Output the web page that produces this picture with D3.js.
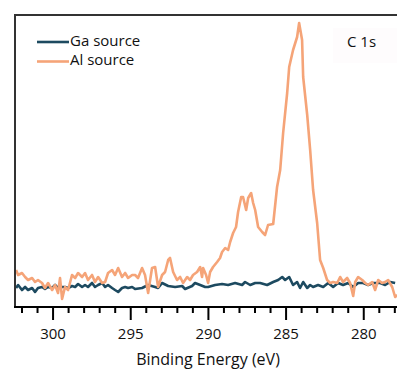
<!DOCTYPE html>
<html>
<head>
<meta charset="utf-8">
<script src="https://cdn.jsdelivr.net/npm/d3@7"></script>
<style>
  body { margin: 0; background: #fff; }
  svg { display: block; font-family: "Open Sans", sans-serif; }
</style>
</head>
<body>
<div id="vis"></div>
<script>
// Binding energy (eV) and intensity (a.u.)
const gaEnergy = [302.38, 302.25, 302.0, 301.8, 301.61, 301.35, 301.16, 300.97, 300.71, 300.52,
  300.32, 300.06, 299.87, 299.68, 299.42, 299.23, 299.03, 298.78, 298.58, 298.39,
  298.13, 297.94, 297.75, 297.49, 297.30, 297.10, 296.84, 296.65, 296.46, 296.20,
  296.01, 295.81, 295.56, 295.36, 295.17, 294.91, 294.72, 294.27, 293.88, 293.43,
  293.24, 292.98, 292.59, 292.14, 291.69, 291.50, 291.05, 290.86, 290.53, 290.21,
  290.02, 289.57, 289.12, 288.73, 288.28, 287.83, 287.64, 287.31, 286.99, 286.67,
  286.22, 285.83, 285.51, 285.25, 285.06, 284.80, 284.55, 284.29, 284.10, 283.90,
  283.64, 283.45, 283.26, 282.94, 282.61, 282.29, 281.97, 281.65, 281.33, 281.00,
  280.68, 280.36, 280.04, 279.72, 279.40, 278.95, 278.62, 278.30, 277.98];
const gaCounts = [19, 22, 17, 20, 17, 19, 15, 19, 20, 18,
  20, 19, 22, 19, 20, 20, 19, 21, 20, 23,
  20, 22, 20, 24, 20, 22, 24, 20, 22, 19,
  17, 15, 19, 20, 19, 20, 18, 19, 22, 20,
  19, 24, 21, 20, 21, 18, 21, 24, 22, 20,
  20, 22, 23, 22, 24, 22, 25, 22, 24, 24,
  22, 25, 27, 30, 27, 30, 22, 25, 19, 25,
  19, 22, 20, 22, 20, 24, 20, 24, 22, 24,
  20, 24, 24, 22, 24, 24, 22, 25, 24];

const alEnergy = [302.38, 302.25, 302.0, 301.8, 301.61, 301.35, 301.16, 300.97, 300.71, 300.52,
  300.32, 300.06, 299.87, 299.68, 299.55, 299.42, 299.23, 299.03, 298.78, 298.58,
  298.39, 298.13, 297.94, 297.75, 297.49, 297.30, 297.10, 296.84, 296.65, 296.46,
  296.20, 296.01, 295.81, 295.56, 295.36, 295.17, 294.91, 294.72, 294.53, 294.27,
  294.08, 293.88, 293.63, 293.43, 293.24, 292.98, 292.79, 292.59, 292.47, 292.27,
  292.02, 291.82, 291.63, 291.37, 291.18, 290.99, 290.73, 290.53, 290.41, 290.34,
  290.15, 290.02, 289.89, 289.70, 289.44, 289.25, 289.12, 288.92, 288.73, 288.60,
  288.41, 288.22, 288.09, 287.89, 287.77, 287.57, 287.44, 287.25, 287.12, 286.99,
  286.80, 286.54, 286.35, 286.16, 285.83, 285.58, 285.38, 285.19, 284.93, 284.80,
  284.55, 284.29, 284.16, 283.97, 283.90, 283.64, 283.45, 283.26, 283.00, 282.81,
  282.61, 282.36, 282.16, 281.97, 281.71, 281.52, 281.33, 281.07, 280.88, 280.68,
  280.55, 280.36, 280.10, 279.91, 279.72, 279.46, 279.27, 279.07, 278.82, 278.62,
  278.43, 278.17, 277.98, 277.85];
const alCounts = [37, 32, 34, 30, 27, 29, 25, 27, 24, 19,
  24, 17, 22, 14, 29, 8, 20, 17, 32, 29,
  34, 30, 34, 27, 32, 25, 30, 24, 25, 34,
  37, 32, 39, 30, 34, 29, 32, 32, 29, 39,
  32, 14, 39, 40, 20, 32, 35, 47, 49, 35,
  27, 30, 24, 30, 27, 32, 35, 40, 30, 39,
  32, 24, 35, 40, 45, 49, 55, 59, 57, 65,
  74, 80, 95, 110, 110, 97, 109, 114, 104, 97,
  80, 75, 72, 82, 83, 120, 137, 174, 214, 240,
  257, 270, 284, 267, 230, 192, 157, 117, 84, 47,
  39, 27, 24, 25, 24, 30, 25, 29, 24, 11,
  25, 30, 27, 24, 22, 25, 17, 27, 24, 25,
  27, 20, 10, 12];

const xTicks = [300, 295, 290, 285, 280];
const minorTicks = [302, 301, 299, 298, 297, 296, 294, 293, 292, 291, 289, 288, 287, 286, 284, 283, 282, 281, 279, 278];
const seriesNames = ["Ga source", "Al source"];
const colors = ["#1d4a60", "#f5a478"];

const W = 397, H = 369;
const plotBox = {left: 15, right: 397, top: 15, bottom: 307};

const svg = d3.select("#vis").append("svg")
  .attr("width", W)
  .attr("height", H);

const x = d3.scaleLinear().domain([302.45, 277.86]).range([plotBox.left, plotBox.right]);
const y = d3.scaleLinear().domain([0, 292]).range([plotBox.bottom, plotBox.top]);

// plot frame (right side runs off the picture)
svg.append("path")
  .attr("d", `M${plotBox.right + 5},${plotBox.top}H${plotBox.left}V${plotBox.bottom}`)
  .attr("fill", "none")
  .attr("stroke", "#333")
  .attr("stroke-width", 2);

// faint label box
svg.append("rect")
  .attr("x", 333).attr("y", 28)
  .attr("width", 70).attr("height", 35)
  .attr("fill", "#fefcfd");

svg.append("text")
  .attr("x", 347).attr("y", 47)
  .attr("font-size", 15)
  .attr("fill", "#111")
  .text("C 1s");

const line = d3.line()
  .x(d => x(d[0]))
  .y(d => y(d[1]));

svg.append("clipPath").attr("id", "clip")
  .append("rect")
  .attr("x", plotBox.left + 1).attr("y", plotBox.top)
  .attr("width", plotBox.right - plotBox.left).attr("height", plotBox.bottom - plotBox.top);

const plot = svg.append("g").attr("clip-path", "url(#clip)");

plot.append("path")
  .datum(d3.zip(gaEnergy, gaCounts))
  .attr("d", line)
  .attr("fill", "none")
  .attr("stroke", colors[0])
  .attr("stroke-width", 2.6)
  .attr("stroke-linejoin", "round");

plot.append("path")
  .datum(d3.zip(alEnergy, alCounts))
  .attr("d", line)
  .attr("fill", "none")
  .attr("stroke", colors[1])
  .attr("stroke-width", 2.6)
  .attr("stroke-linejoin", "round");

// x axis
const axis = svg.append("g").attr("transform", `translate(0,${plotBox.bottom})`);
axis.append("line")
  .attr("x1", plotBox.left - 1).attr("x2", plotBox.right + 5)
  .attr("stroke", "#000").attr("stroke-width", 2);

axis.selectAll(".minor")
  .data(minorTicks)
  .join("line")
  .attr("class", "minor")
  .attr("x1", d => x(d)).attr("x2", d => x(d))
  .attr("y1", 0).attr("y2", 6)
  .attr("stroke", "#000").attr("stroke-width", 2);

axis.selectAll(".major")
  .data(xTicks)
  .join("line")
  .attr("class", "major")
  .attr("x1", d => x(d)).attr("x2", d => x(d))
  .attr("y1", 0).attr("y2", 13)
  .attr("stroke", "#000").attr("stroke-width", 2);

axis.selectAll(".tick-label")
  .data(xTicks)
  .join("text")
  .attr("class", "tick-label")
  .attr("x", d => x(d))
  .attr("y", 31.5)
  .attr("text-anchor", "middle")
  .attr("font-size", 15)
  .attr("fill", "#111")
  .text(d => d);

svg.append("text")
  .attr("x", 208).attr("y", 365)
  .attr("text-anchor", "middle")
  .attr("font-size", 16)
  .attr("fill", "#111")
  .text("Binding Energy (eV)");

// legend
const legend = svg.append("g");
seriesNames.forEach(function (name, i) {
  const ly = 42 + i * 19.5;
  legend.append("line")
    .attr("x1", 37).attr("x2", 69)
    .attr("y1", ly).attr("y2", ly)
    .attr("stroke", colors[i])
    .attr("stroke-width", 2.6);
  legend.append("text")
    .attr("x", 70).attr("y", ly + 3.5)
    .attr("font-size", 15)
    .attr("fill", "#111")
    .text(name);
});
</script>
</body>
</html>
